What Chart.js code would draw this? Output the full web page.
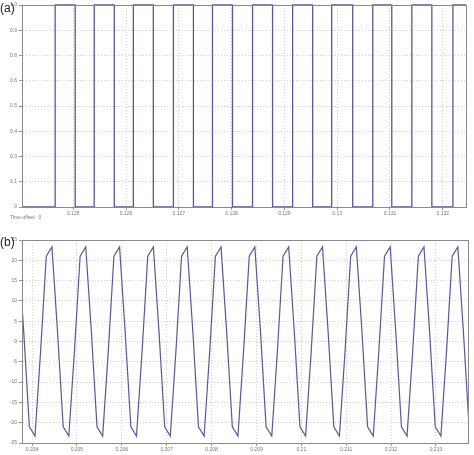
<!DOCTYPE html>
<html lang="en">
<head>
    <meta charset="UTF-8">
    <title>Scope traces</title>
    <script src="https://cdn.jsdelivr.net/npm/chart.js"></script>
    <style>
        body { margin: 0; background: #fff; width: 474px; height: 455px; position: relative; overflow: hidden; font-family: "Liberation Sans", Arial, sans-serif; }
        canvas { position: absolute; left: 0; }
        #chartA { top: 0; }
        #chartB { top: 225px; }
        .tag { position: absolute; left: 0; font-size: 12px; color: #222; }
        .offset { position: absolute; left: 10px; top: 214px; font-size: 5px; color: #777; }
    </style>
</head>
<body>
    <canvas id="chartA" width="474" height="225"></canvas>
    <canvas id="chartB" width="474" height="230"></canvas>
    <div class="tag" style="top:1px">(a)</div>
    <div class="tag" style="top:235px">(b)</div>
    <div class="offset">Time offset:&nbsp; 0</div>
    <script>
        // (a) gate pulse train: step points (time, level)
        const pulseT = [0.12403, 0.124658, 0.125038, 0.125398, 0.125778, 0.126139, 0.126518, 0.126898,
            0.127277, 0.127638, 0.128017, 0.128397, 0.128776, 0.129156, 0.129535, 0.129896, 0.130294,
            0.130674, 0.131034, 0.131414, 0.131793, 0.132192, 0.13244];
        const pulseV = [0, 1, 0, 1, 0, 1, 0, 1, 0, 1, 0, 1, 0, 1, 0, 1, 0, 1, 0, 1, 0, 1, 1];
        const xTicksA = [0.125, 0.126, 0.127, 0.128, 0.129, 0.13, 0.131, 0.132];
        const xLabelsA = ['0.125', '0.126', '0.127', '0.128', '0.129', '0.13', '0.131', '0.132'];
        const yTicksA = [0, 0.125, 0.25, 0.375, 0.5, 0.625, 0.75, 0.875, 1];

        // (b) sampled voltage trace
        const waveT = [
            0.203690, 0.203816, 0.203941, 0.204067, 0.204192, 0.204318,
            0.204444, 0.204569, 0.204695, 0.204820, 0.204946, 0.205072,
            0.205197, 0.205323, 0.205448, 0.205574, 0.205700, 0.205825,
            0.205951, 0.206076, 0.206202, 0.206328, 0.206453, 0.206579,
            0.206704, 0.206830, 0.206956, 0.207081, 0.207207, 0.207332,
            0.207458, 0.207584, 0.207709, 0.207835, 0.207960, 0.208086,
            0.208212, 0.208337, 0.208463, 0.208588, 0.208714, 0.208840,
            0.208965, 0.209091, 0.209216, 0.209342, 0.209468, 0.209593,
            0.209719, 0.209844, 0.209970, 0.210096, 0.210221, 0.210347,
            0.210472, 0.210598, 0.210724, 0.210849, 0.210975, 0.211100,
            0.211226, 0.211352, 0.211477, 0.211603, 0.211728, 0.211854,
            0.211980, 0.212105, 0.212231, 0.212356, 0.212482, 0.212608,
            0.212733, 0.212859, 0.212984, 0.213110, 0.213236, 0.213361,
            0.213487, 0.213612, 0.213738];
        const waveV = [
            23.3, 2.3, -21, -23.3, -2.3, 21,
            23.3, 2.3, -21, -23.3, -2.3, 21,
            23.3, 2.3, -21, -23.3, -2.3, 21,
            23.3, 2.3, -21, -23.3, -2.3, 21,
            23.3, 2.3, -21, -23.3, -2.3, 21,
            23.3, 2.3, -21, -23.3, -2.3, 21,
            23.3, 2.3, -21, -23.3, -2.3, 21,
            23.3, 2.3, -21, -23.3, -2.3, 21,
            23.3, 2.3, -21, -23.3, -2.3, 21,
            23.3, 2.3, -21, -23.3, -2.3, 21,
            23.3, 2.3, -21, -23.3, -2.3, 21,
            23.3, 2.3, -21, -23.3, -2.3, 21,
            23.3, 2.3, -21, -23.3, -2.3, 21,
            23.3, 2.3, -21];
        const xTicksB = [0.204, 0.205, 0.206, 0.207, 0.208, 0.209, 0.21, 0.211, 0.212, 0.213];
        const xLabelsB = ['0.204', '0.205', '0.206', '0.207', '0.208', '0.209', '0.21', '0.211', '0.212', '0.213'];
        const yTicksB = [-25, -20, -15, -10, -5, 0, 5, 10, 15, 20, 25];

        const traceColor = 'rgb(86, 90, 152)';
        const tickFont = { size: 5, family: 'Liberation Sans' };

        // box round the plot area, like a scope frame
        const frame = {
            id: 'frame',
            afterDraw(chart) {
                const a = chart.chartArea, c = chart.ctx;
                c.save();
                c.strokeStyle = '#8a8a8a';
                c.lineWidth = 1;
                c.strokeRect(a.left + 0.5, a.top + 0.5, a.right - a.left, a.bottom - a.top);
                c.restore();
            }
        };

        function makeOptions(xMin, xMax, xTicks, xLabels, yMin, yMax, yTicks, pad, yWidth, xHeight) {
            return {
                responsive: false,
                animation: false,
                layout: { padding: pad },
                plugins: { legend: { display: false }, tooltip: { enabled: false } },
                scales: {
                    x: {
                        type: 'linear',
                        min: xMin,
                        max: xMax,
                        afterBuildTicks: s => { s.ticks = xTicks.map(v => ({ value: v })); },
                        afterFit: s => { s.height = xHeight; },
                        grid: { color: '#d2d2d2', tickLength: 3, tickColor: '#999' },
                        border: { color: '#8a8a8a', dash: [1, 2] },
                        ticks: { font: tickFont, color: '#777', padding: 1, maxRotation: 0, autoSkip: false,
                            callback: (v, i) => xLabels[i] }
                    },
                    y: {
                        min: yMin,
                        max: yMax,
                        afterBuildTicks: s => { s.ticks = yTicks.map(v => ({ value: v })); },
                        afterFit: s => { s.width = yWidth; },
                        grid: { color: '#d2d2d2', tickLength: 3, tickColor: '#999' },
                        border: { color: '#8a8a8a', dash: [1, 2] },
                        ticks: { font: tickFont, color: '#777', padding: 2 }
                    }
                }
            };
        }

        new Chart(document.getElementById('chartA'), {
            type: 'line',
            data: {
                datasets: [{
                    data: pulseT.map((t, i) => ({ x: t, y: pulseV[i] })),
                    borderColor: traceColor,
                    borderWidth: 1.3,
                    stepped: true,
                    pointRadius: 0,
                    clip: 3
                }]
            },
            options: makeOptions(0.12403, 0.13244, xTicksA, xLabelsA, 0, 1, yTicksA,
                { top: 5, right: 8, left: 0, bottom: 0 }, 22, 18),
            plugins: [frame]
        });

        new Chart(document.getElementById('chartB'), {
            type: 'line',
            data: {
                datasets: [{
                    data: waveT.map((t, i) => ({ x: t, y: waveV[i] })),
                    borderColor: traceColor,
                    borderWidth: 1.2,
                    tension: 0,
                    pointRadius: 0
                }]
            },
            options: makeOptions(0.203777, 0.213714, xTicksB, xLabelsB, -25, 25, yTicksB,
                { top: 15, right: 6, left: 0, bottom: 0 }, 22, 12),
            plugins: [frame]
        });
    </script>
</body>
</html>
